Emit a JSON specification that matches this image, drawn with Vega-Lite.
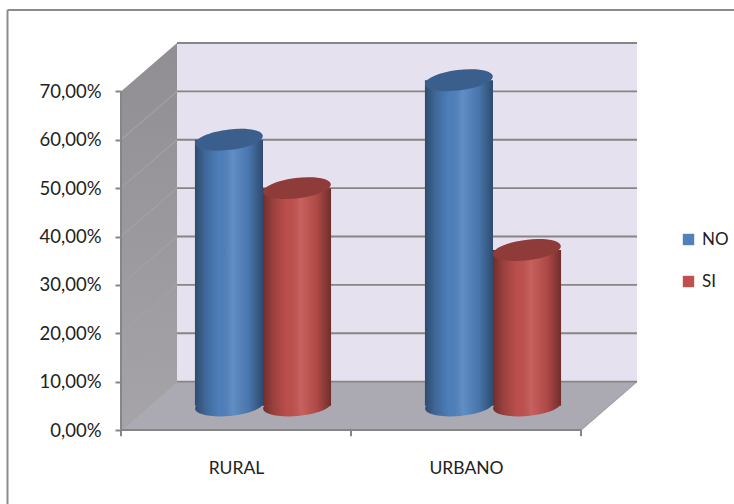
{
"$schema":"https://vega.github.io/schema/vega-lite/v6.json",
"width":734,"height":504,"padding":0,"autosize":"none","background":"white",
"config":{"view":{"stroke":null},"font":"Lato"},
"datasets":{
"bars":[
{"zona":"RURAL","respuesta":"NO","pct":55},
{"zona":"RURAL","respuesta":"SI","pct":45},
{"zona":"URBANO","respuesta":"NO","pct":67.3},
{"zona":"URBANO","respuesta":"SI","pct":32.2}],
"back":[{"a":0.2435,"b":2.2435,"lo":10,"hi":80}],
"side":[{"a":0,"lo":0,"hi":70},{"a":0.2435,"lo":10,"hi":80}],
"floor":[{"a":0,"lo":0,"hi":0},{"a":0.2435,"lo":0,"hi":10},{"a":2,"lo":0,"hi":10},{"a":2.2435,"lo":10,"hi":10}],
"lines":[
{"k":"grid","a":0.2435,"a2":2.2435,"v":20,"v2":20},
{"k":"grid","a":0.2435,"a2":2.2435,"v":30,"v2":30},
{"k":"grid","a":0.2435,"a2":2.2435,"v":40,"v2":40},
{"k":"grid","a":0.2435,"a2":2.2435,"v":50,"v2":50},
{"k":"grid","a":0.2435,"a2":2.2435,"v":60,"v2":60},
{"k":"grid","a":0.2435,"a2":2.2435,"v":70,"v2":70},
{"k":"grid","a":0.2435,"a2":2.2435,"v":80,"v2":80},
{"k":"grid","a":0.2435,"a2":2.2435,"v":10,"v2":10},
{"k":"slant","a":0,"a2":0.2435,"v":10,"v2":20},
{"k":"slant","a":0,"a2":0.2435,"v":20,"v2":30},
{"k":"slant","a":0,"a2":0.2435,"v":30,"v2":40},
{"k":"slant","a":0,"a2":0.2435,"v":40,"v2":50},
{"k":"slant","a":0,"a2":0.2435,"v":50,"v2":60},
{"k":"slant","a":0,"a2":0.2435,"v":60,"v2":70},
{"k":"slant","a":0,"a2":0.2435,"v":0,"v2":10},
{"k":"slant","a":2,"a2":2.2435,"v":0,"v2":10},
{"k":"axis","a":0,"a2":2,"v":0,"v2":0},
{"k":"axis","a":0,"a2":0,"v":0,"v2":70},
{"k":"axis","a":0,"a2":0,"v":0,"v2":-1.3},
{"k":"axis","a":1,"a2":1,"v":0,"v2":-1.3},
{"k":"axis","a":2,"a2":2,"v":0,"v2":-1.3},
{"k":"frame","a":-0.4935,"a2":2.7,"v":86.8,"v2":86.8},
{"k":"frame","a":-0.4935,"a2":-0.4935,"v":86.8,"v2":-16}
]},
"resolve":{"scale":{"x":"independent","y":"independent"},"axis":{"x":"independent","y":"independent"}},
"layer":[
{"encoding":{
"x":{"field":"a","type":"quantitative","scale":{"domain":[0,2],"range":[121,581],"nice":false,"zero":false},
"axis":{"values":[0.5,1.5],"labelExpr":"datum.value==0.5?'RURAL':'URBANO'","title":null,"orient":"bottom","offset":-74,"ticks":false,"domain":false,"grid":false,"labelPadding":29,"labelFont":"Lato","labelFontSize":17.5,"labelColor":"#222222","labelAngle":0}},
"y":{"field":"lo","type":"quantitative","scale":{"domain":[0,80],"range":[430,43],"nice":false,"zero":false},
"axis":{"values":[0,10,20,30,40,50,60,70],"labelExpr":"replace(format(datum.value,'.2f'),'.',',')+'%'","title":null,"orient":"left","offset":-121,"domain":false,"grid":false,"tickSize":6,"tickWidth":2,"tickColor":"#868686","labelPadding":14,"labelFont":"Lato","labelFontSize":18.5,"labelColor":"#222222"}}
},
"layer":[
{"data":{"name":"back"},"mark":{"type":"rect","color":"#E6E1EE"},
 "encoding":{"x2":{"field":"b"},"y2":{"field":"hi"}}},
{"data":{"name":"side"},"mark":{"type":"area","color":{"gradient":"linear","x1":0,"y1":0,"x2":0,"y2":1,"stops":[{"offset":0,"color":"#908E93"},{"offset":1,"color":"#A6A4A9"}]}},
 "encoding":{"y2":{"field":"hi"}}},
{"data":{"name":"floor"},"mark":{"type":"area","color":"#ABA9B2"},
 "encoding":{"y2":{"field":"hi"}}},
{"data":{"name":"lines"},"transform":[{"filter":"datum.k=='slant'"}],"mark":{"type":"rule","color":"#A3A1A6","strokeWidth":1.2},
 "encoding":{"y":{"field":"v","type":"quantitative"},"x2":{"field":"a2"},"y2":{"field":"v2"}}},
{"data":{"name":"lines"},"transform":[{"filter":"datum.k=='grid'"}],"mark":{"type":"rule","color":"#868686","strokeWidth":1.8},
 "encoding":{"y":{"field":"v","type":"quantitative"},"x2":{"field":"a2"},"y2":{"field":"v2"}}},
{"data":{"name":"lines"},"transform":[{"filter":"datum.k=='axis'"}],"mark":{"type":"rule","color":"#868686","strokeWidth":2},
 "encoding":{"y":{"field":"v","type":"quantitative"},"x2":{"field":"a2"},"y2":{"field":"v2"}}},
{"data":{"name":"lines"},"transform":[{"filter":"datum.k=='frame'"}],"mark":{"type":"rule","color":"#8C8C8C","strokeWidth":2},
 "encoding":{"y":{"field":"v","type":"quantitative"},"x2":{"field":"a2"},"y2":{"field":"v2"}}}
]},
{"data":{"name":"bars"},
"encoding":{
"x":{"field":"zona","type":"nominal","scale":{"domain":["RURAL","URBANO"],"range":[148,608],"paddingInner":0,"paddingOuter":0},"axis":null},
"xOffset":{"field":"respuesta","type":"nominal","scale":{"domain":["NO","SI"],"paddingInner":0,"paddingOuter":0.69}},
"y":{"field":"pct","type":"quantitative","scale":{"domain":[-5,75],"range":[430,43],"nice":false,"zero":false},"axis":null},
"color":{"field":"respuesta","type":"nominal","scale":{"domain":["NO","SI"],"range":["#4F81BD","#C0504D"]},
 "legend":{"title":null,"orient":"none","legendX":680,"legendY":231,"symbolType":"square","symbolSize":130,"labelFont":"Lato","labelFontSize":17,"labelColor":"#222222","rowPadding":24,"labelOffset":5,"symbolStrokeWidth":0}}
},
"layer":[
{"mark":{"type":"point","filled":true,"opacity":1,"shape":"M-1,0A1,0.3 0 1 1 1,0A1,0.3 0 1 1 -1,0Z","size":4624,"angle":-5,"strokeWidth":0},
 "encoding":{"y":{"datum":0,"type":"quantitative"}}},
{"mark":{"type":"point","filled":true,"opacity":1,"shape":"M-1,0A1,0.3 0 1 1 1,0A1,0.3 0 1 1 -1,0Z","size":4624,"angle":-5,"strokeWidth":0},
 "encoding":{"y":{"datum":0,"type":"quantitative"},"color":{"value":{"gradient":"linear","x1":0,"y1":0,"x2":1,"y2":0,"stops":[{"offset":0,"color":"rgba(0,0,0,0.42)"},{"offset":0.15,"color":"rgba(0,0,0,0.2)"},{"offset":0.35,"color":"rgba(0,0,0,0.02)"},{"offset":0.55,"color":"rgba(255,255,255,0.1)"},{"offset":0.8,"color":"rgba(0,0,0,0.1)"},{"offset":1,"color":"rgba(0,0,0,0.42)"}]}}}},
{"mark":{"type":"bar"},
 "encoding":{"y2":{"datum":0}}},
{"mark":{"type":"bar"},
 "encoding":{"y2":{"datum":0},"color":{"value":{"gradient":"linear","x1":0,"y1":0,"x2":1,"y2":0,"stops":[{"offset":0,"color":"rgba(0,0,0,0.42)"},{"offset":0.15,"color":"rgba(0,0,0,0.2)"},{"offset":0.35,"color":"rgba(0,0,0,0.02)"},{"offset":0.55,"color":"rgba(255,255,255,0.1)"},{"offset":0.8,"color":"rgba(0,0,0,0.1)"},{"offset":1,"color":"rgba(0,0,0,0.42)"}]}}}},
{"mark":{"type":"point","filled":true,"opacity":1,"shape":"M-1,0A1,0.3 0 1 1 1,0A1,0.3 0 1 1 -1,0Z","size":4624,"angle":-7,"strokeWidth":0}},
{"mark":{"type":"point","filled":true,"opacity":0.26,"shape":"M-1,0A1,0.3 0 1 1 1,0A1,0.3 0 1 1 -1,0Z","size":4624,"angle":-7,"strokeWidth":0},
 "encoding":{"color":{"value":"#000000"}}}
]}
]}
